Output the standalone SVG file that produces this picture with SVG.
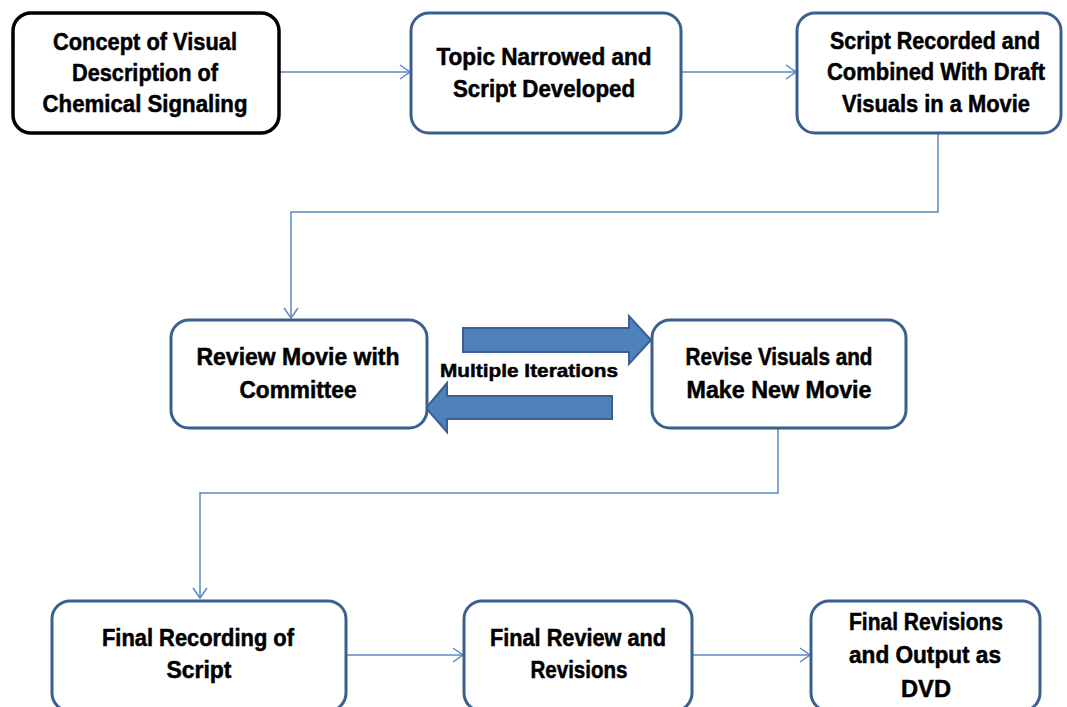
<svg xmlns="http://www.w3.org/2000/svg" width="1067" height="707" viewBox="0 0 1067 707">
<style>
.box{fill:#fff;stroke:#3B5F8E;stroke-width:3}
.box0{fill:#fff;stroke:#000;stroke-width:3.5}
.t{font-family:"Liberation Sans",Arial,sans-serif;font-weight:bold;font-size:23px;text-anchor:middle;fill:#000;stroke:#000;stroke-width:0.5}
.lbl{font-size:19px}
.c{fill:none;stroke:#5B88C2;stroke-width:1.5}
.big{fill:#4F81BD;stroke:#3B5F8E;stroke-width:2}
</style>
<defs>
<marker id="ah" viewBox="0 0 12 16" refX="11" refY="8" markerWidth="12" markerHeight="16" markerUnits="userSpaceOnUse" orient="auto">
<path d="M1,1 L11,8 L1,15" fill="none" stroke="#5B88C2" stroke-width="1.5"/>
</marker>
</defs>
<g id="connectors">
<path class="c" d="M279,72 H410" marker-end="url(#ah)"/>
<path class="c" d="M681,72 H796" marker-end="url(#ah)"/>
<path class="c" d="M938,134 V212 H291 V318" marker-end="url(#ah)"/>
<path class="c" d="M778,429 V493 H200 V598" marker-end="url(#ah)"/>
<path class="c" d="M346,655 H463" marker-end="url(#ah)"/>
<path class="c" d="M692,655 H810" marker-end="url(#ah)"/>
<path class="big" d="M463,328 H629 V316 L651,340 L629,364 V352 H463 Z"/>
<path class="big" d="M612,396 H447 V383 L426,408 L447,432 V419 H612 Z"/>
<text class="t lbl" x="529" y="377" textLength="178" lengthAdjust="spacingAndGlyphs">Multiple Iterations</text>
</g>
<g id="n1"><rect class="box0" x="13" y="13" width="266" height="120" rx="18"/>
<text class="t" x="145" y="50" textLength="184" lengthAdjust="spacingAndGlyphs">Concept of Visual</text><text class="t" x="145" y="81" textLength="146" lengthAdjust="spacingAndGlyphs">Description of</text><text class="t" x="145" y="112" textLength="205" lengthAdjust="spacingAndGlyphs">Chemical Signaling</text></g>
<g id="n2"><rect class="box" x="411" y="13" width="270" height="120" rx="18"/>
<text class="t" x="544" y="65" textLength="215" lengthAdjust="spacingAndGlyphs">Topic Narrowed and</text><text class="t" x="544" y="97" textLength="182" lengthAdjust="spacingAndGlyphs">Script Developed</text></g>
<g id="n3"><rect class="box" x="797" y="13" width="264" height="120" rx="18"/>
<text class="t" x="935" y="49" textLength="210" lengthAdjust="spacingAndGlyphs">Script Recorded and</text><text class="t" x="936" y="80" textLength="218" lengthAdjust="spacingAndGlyphs">Combined With Draft</text><text class="t" x="936" y="112" textLength="188" lengthAdjust="spacingAndGlyphs">Visuals in a  Movie</text></g>
<g id="n4"><rect class="box" x="171" y="320" width="256" height="108" rx="18"/>
<text class="t" x="298" y="365" textLength="203" lengthAdjust="spacingAndGlyphs">Review Movie with</text><text class="t" x="298" y="398" textLength="117" lengthAdjust="spacingAndGlyphs">Committee</text></g>
<g id="n5"><rect class="box" x="652" y="320" width="254" height="108" rx="18"/>
<text class="t" x="779" y="365" textLength="187" lengthAdjust="spacingAndGlyphs">Revise Visuals and</text><text class="t" x="779" y="398" textLength="185" lengthAdjust="spacingAndGlyphs">Make New Movie</text></g>
<g id="n6"><rect class="box" x="52" y="601" width="294" height="110" rx="18"/>
<text class="t" x="198" y="646" textLength="192" lengthAdjust="spacingAndGlyphs">Final Recording of</text><text class="t" x="199" y="678" textLength="65" lengthAdjust="spacingAndGlyphs">Script</text></g>
<g id="n7"><rect class="box" x="464" y="601" width="228" height="110" rx="18"/>
<text class="t" x="578" y="646" textLength="176" lengthAdjust="spacingAndGlyphs">Final Review and</text><text class="t" x="579" y="678" textLength="97" lengthAdjust="spacingAndGlyphs">Revisions</text></g>
<g id="n8"><rect class="box" x="811" y="601" width="229" height="110" rx="18"/>
<text class="t" x="926" y="630" textLength="154" lengthAdjust="spacingAndGlyphs">Final Revisions</text><text class="t" x="925" y="663" textLength="152" lengthAdjust="spacingAndGlyphs">and Output as</text><text class="t" x="926" y="697" textLength="50" lengthAdjust="spacingAndGlyphs">DVD</text></g>
</svg>
